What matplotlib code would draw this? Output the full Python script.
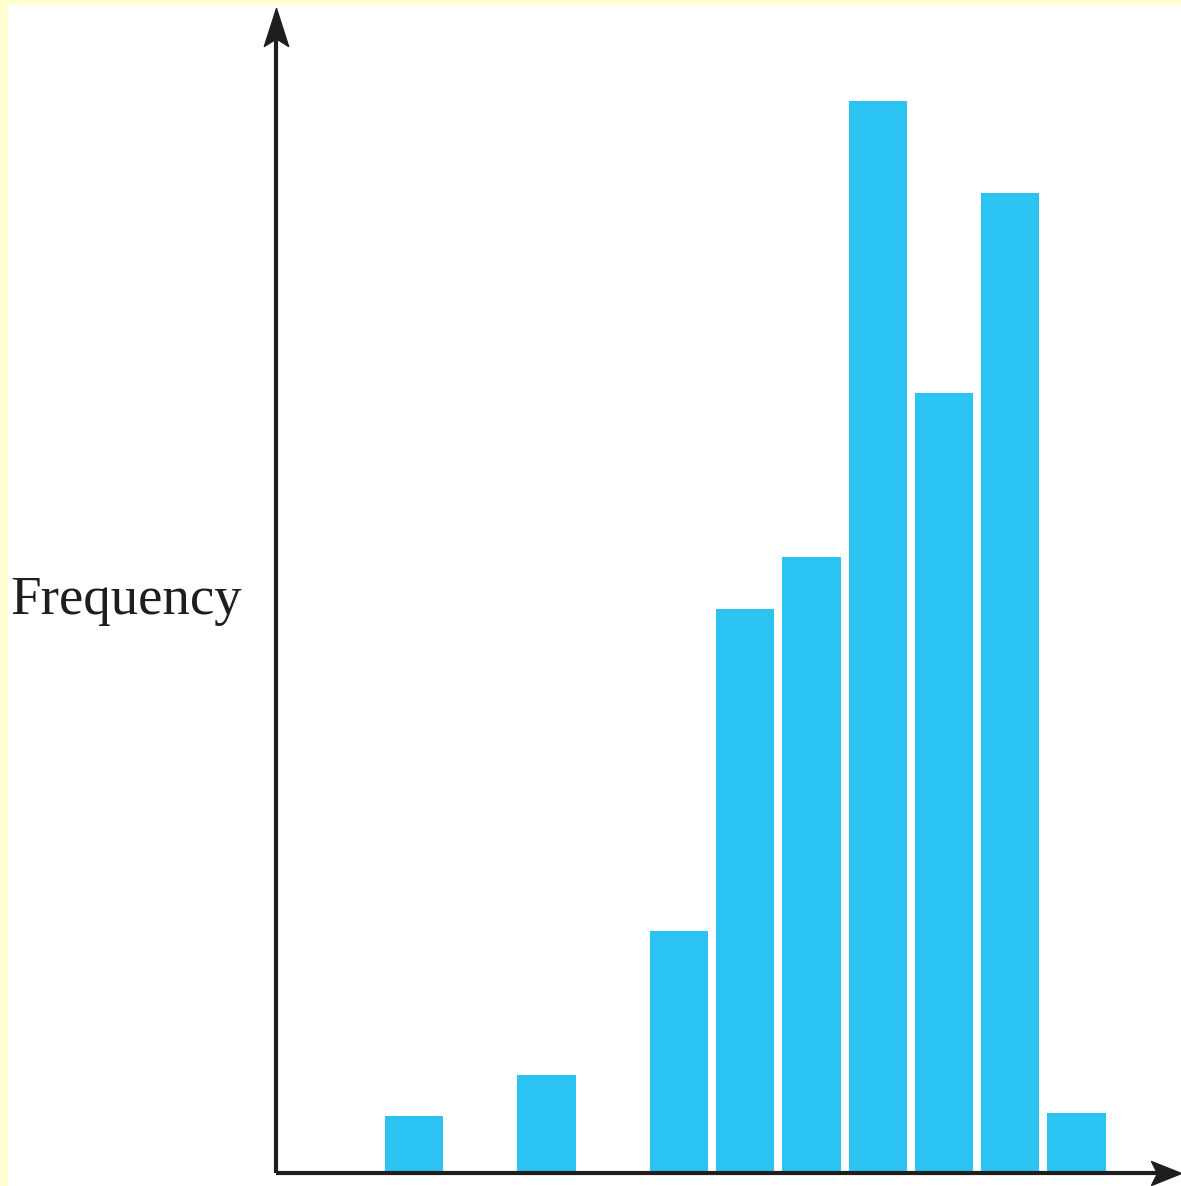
import numpy as np
import matplotlib.pyplot as plt
from matplotlib.patches import Rectangle
from matplotlib.path import Path

# Posiciones de las clases (indice de clase) y alturas
clases = [0, 2, 4, 5, 6, 7, 8, 9, 10]
frecuencias = [1.11, 1.91, 4.72, 11.0, 12.0, 20.9, 15.2, 19.1, 1.17]

W, H = 1181, 1186
fig = plt.figure(figsize=(W / 100, H / 100), dpi=100)
fig.patch.set_facecolor('#FFFFD2')
# area blanca interior
fig.add_artist(Rectangle((8 / W, 0), 1 - 8 / W, 1 - 5 / H, transform=fig.transFigure,
                         facecolor='white', edgecolor='none', zorder=0))

# ejes colocados en pixeles
x0, x1 = 276, 1181
y_base, y_top = 1173, 5
ax = fig.add_axes([x0 / W, (H - y_base) / H, (x1 - x0) / W, (y_base - y_top) / H])
ax.patch.set_alpha(0)

paso = 66.25
centro0 = 414
ax.set_xlim((x0 - centro0) / paso, (x1 - centro0) / paso)
unidad = 51.3
ax.set_ylim(0, (y_base - y_top) / unidad)

ax.bar(clases, frecuencias, width=0.88, color='#2BC4F2', edgecolor='none', zorder=2)

for s in ax.spines.values():
    s.set_visible(False)
ax.set_xticks([])
ax.set_yticks([])

xmin, xmax = ax.get_xlim()
ymin, ymax = ax.get_ylim()
color_eje = '#1E1E1E'

# lineas de los ejes
ax.plot([xmin, xmax - 20 / paso], [0, 0], color=color_eje, lw=3, clip_on=False,
        solid_capstyle='butt', zorder=3)
ax.plot([xmin, xmin], [0, ymax - 25 / unidad], color=color_eje, lw=3, clip_on=False,
        solid_capstyle='butt', zorder=3)

# puntas de flecha con muesca
punta_arriba = Path([(0, 0.5), (0.32, -0.5), (0, -0.3), (-0.32, -0.5), (0, 0.5)],
                    [Path.MOVETO, Path.LINETO, Path.LINETO, Path.LINETO, Path.CLOSEPOLY])
punta_derecha = Path([(0.5, 0), (-0.5, 0.4), (-0.3, 0), (-0.5, -0.4), (0.5, 0)],
                     [Path.MOVETO, Path.LINETO, Path.LINETO, Path.LINETO, Path.CLOSEPOLY])
ax.plot([xmin], [ymax - 22 / unidad], marker=punta_arriba, markersize=38 * 0.72,
        color=color_eje, clip_on=False, zorder=4)
ax.plot([xmax - 15 / paso], [0], marker=punta_derecha, markersize=30 * 0.72,
        color=color_eje, clip_on=False, zorder=4)

fig.text(10 / W, 1 - 614 / H, 'Frequency', family='Liberation Serif', fontsize=39.5,
         color='#1E1E1E', ha='left', va='baseline')

fig.savefig('out.png', dpi=100)
